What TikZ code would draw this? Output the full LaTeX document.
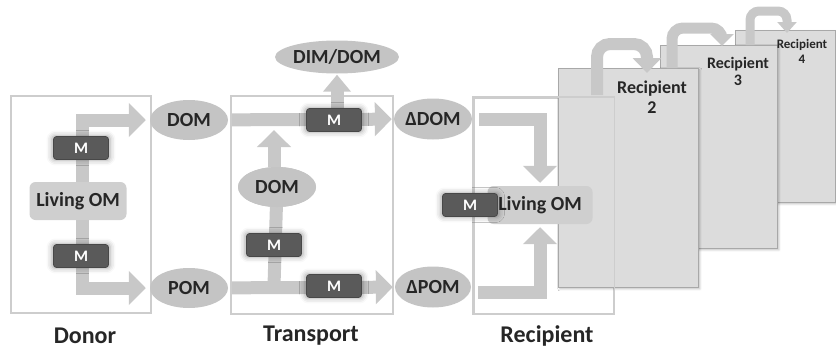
\documentclass[tikz,border=0pt]{standalone}
\usepackage{fontspec}
\setmainfont{Carlito}
\usetikzlibrary{arrows.meta,shapes.geometric,shadows.blur,calc}
\definecolor{arrowgray}{HTML}{C8C8C8}
\definecolor{ellgray}{HTML}{C4C4C4}
\definecolor{boxgray}{HTML}{CFCFCF}
\definecolor{mgray}{HTML}{5A5A5A}
\definecolor{panelgray}{HTML}{DCDCDC}
\definecolor{panelline}{HTML}{A8A8A8}
\definecolor{framegray}{HTML}{CDCDCD}
\definecolor{txt}{HTML}{262626}
\begin{document}
\begin{tikzpicture}[x=1pt,y=-1pt,
 fat/.style={draw=arrowgray,line width=13pt,line join=miter,-{Triangle[width=33pt,length=17pt]}},
 fatline/.style={draw=arrowgray,line width=13pt},
 curvy/.style={draw=arrowgray,line width=#1,rounded corners=13pt},
 ell/.style={ellipse,fill=ellgray,inner sep=0pt,text=txt,font=\fontsize{20}{21}\selectfont\bfseries},
 lom/.style={rounded corners=6pt,fill=boxgray,inner sep=0pt,text=txt,font=\fontsize{20}{21}\selectfont\bfseries},
 mbox/.style={rounded corners=3pt,fill=mgray,draw=mgray!80!black,line width=0.8pt,minimum width=55pt,minimum height=23pt,inner sep=0pt,text=white,font=\fontsize{16}{16}\selectfont\bfseries,blur shadow={shadow xshift=0pt,shadow yshift=0pt,shadow blur radius=5pt,shadow opacity=35,shadow scale=1.06}},
 frame/.style={draw=framegray,line width=1.6pt,inner sep=0pt},
 panel/.style={draw=panelline,fill=panelgray,line width=0.9pt,inner sep=0pt,anchor=north west,blur shadow={shadow xshift=1.5pt,shadow yshift=-1.5pt,shadow blur radius=2pt,shadow opacity=25}},
 lbl/.style={text=txt,font=\fontsize{24}{25}\selectfont\bfseries},
 plbl/.style={text=txt,align=center,font=\bfseries}]
\useasboundingbox (0,0) rectangle (836,351);

% frames
\node[frame,minimum width=140pt,minimum height=217pt,anchor=north west] (donor) at (10,95) {};
\node[frame,minimum width=162pt,minimum height=218pt,anchor=north west] (transport) at (230,95) {};
\node[frame,fill=white,minimum width=140pt,minimum height=216pt,anchor=north west] (recip) at (473,97) {};

% panels
\node[panel,minimum width=100pt,minimum height=172pt] (p4) at (735,30) {};
\node[panel,minimum width=117pt,minimum height=203pt] (p3) at (660,45) {};
\node[panel,minimum width=140pt,minimum height=219pt] (p2) at (558,68) {};
\draw[frame] (recip.north west) rectangle (recip.south east);

% panel labels
\node[plbl,font=\fontsize{18}{20}\selectfont\bfseries] (t2) at (652,97) {Recipient\\2};
\node[plbl,font=\fontsize{16}{17}\selectfont\bfseries] (t3) at (738,71) {Recipient\\3};
\node[plbl,font=\fontsize{13}{15}\selectfont\bfseries] (t4) at (802,51) {Recipient\\4};

% curved arrows between recipients
\coordinate (c1a) at (597,95);  \coordinate (c1b) at (647,73);
\coordinate (c2a) at (672,68);  \coordinate (c2b) at (722,46);
\coordinate (c3a) at (750,45);  \coordinate (c3b) at (787,33);
\draw[curvy=12pt,-{Triangle[width=28pt,length=15pt]}] (c1a) |- ($(c1b)+(0,-29)$) -- (c1b);
\draw[curvy=11pt,rounded corners=11pt,-{Triangle[width=23pt,length=12pt]}] (c2a) |- ($(c2b)+(0,-18)$) -- (c2b);
\draw[curvy=9pt,rounded corners=9pt,-{Triangle[width=19pt,length=11pt]}] (c3a) |- ($(c3b)+(0,-22)$) -- (c3b);

% ellipses
\node[ell,minimum width=78pt,minimum height=40pt] (dom1) at (189,120) {DOM};
\node[ell,minimum width=78pt,minimum height=40pt] (pom1) at (189,288) {POM};
\node[ell,minimum width=118pt,minimum height=33pt] (dimdom) at (337,57) {DIM/DOM};
\node[ell,minimum width=78pt,minimum height=40pt] (dom2) at (277,187) {DOM};
\node[ell,minimum width=76pt,minimum height=41pt] (ddom) at (433,119) {ΔDOM};
\node[ell,minimum width=76pt,minimum height=41pt] (dpom) at (433,287) {ΔPOM};

% donor arrows
\coordinate (trunk1) at (82,200);
\draw[fat,shorten >=4pt] (trunk1) |- (dom1);
\draw[fat,shorten >=4pt] (trunk1) |- (pom1);

% transport arrows
\draw[fat,shorten <=4pt,shorten >=2pt] (dom1) -- (ddom);
\draw[fat,shorten <=4pt,shorten >=2pt] (pom1) -- (dpom);
\coordinate (tb) at (274,286);
\draw[fatline] (tb) -- (dom2.center);
\node[ell,minimum width=78pt,minimum height=40pt] at (dom2) {DOM};
\coordinate (tup) at (274,130);
\draw[fat] ([xshift=-3pt]dom2.north) -- (tup);
\coordinate (mtop) at (337,119);
\draw[fat,-{Triangle[width=27pt,length=17pt]},shorten >=1pt] (mtop) -- (dimdom);

% recipient arrows
\node[lom,minimum width=105pt,minimum height=38pt] (lom2) at (540,205) {Living OM};
\draw[fat,shorten <=7pt,shorten >=3pt] (ddom) -| (lom2);
\draw[fat,shorten <=7pt,shorten >=3pt] ([yshift=-5pt]dpom.east) -| (lom2);

% living OM donor
\node[lom,minimum width=97pt,minimum height=38pt] (lom1) at (78,201) {Living OM};

% M boxes
\node[mbox] (md1) at (81,148) {M};
\node[mbox] (md2) at (81,256) {M};
\node[mbox] (mt1) at (334,120) {M};
\node[mbox] (mt2) at (274,245) {M};
\node[mbox] (mt3) at (334,286) {M};
\node[mbox] (mr) at (470,205) {M};

% bottom labels
\node[lbl] (ldonor) at (85,336) {Donor};
\node[lbl] (ltrans) at (311,336) {Transport};
\node[lbl] (lrecip) at (547,336) {Recipient};
\end{tikzpicture}
\end{document}
